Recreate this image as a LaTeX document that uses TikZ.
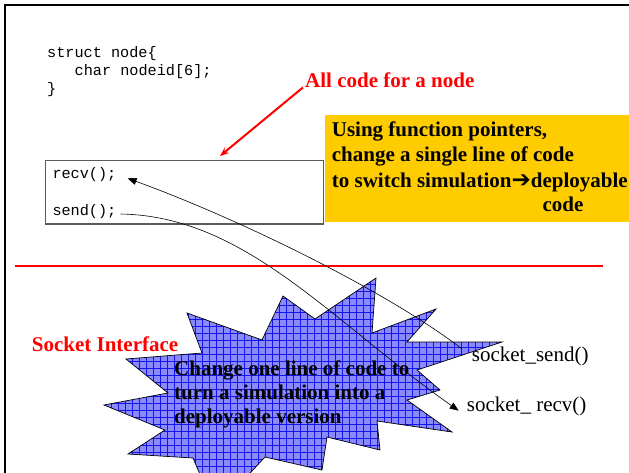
\documentclass[tikz,border=0pt]{standalone}
\usepackage{fontspec}
\setmainfont{Liberation Serif}
\setmonofont{Liberation Mono}
\newfontfamily\djv{DejaVu Sans}
\usetikzlibrary{arrows.meta}
\definecolor{gold}{RGB}{255,204,0}
\definecolor{starfill}{RGB}{138,138,252}
\definecolor{boxgray}{RGB}{90,90,90}
\definecolor{gridblue}{RGB}{20,20,235}
\begin{document}
\begin{tikzpicture}[x=1pt,y=-1pt,
  code/.style={font=\fontsize{15.2}{18}\selectfont\ttfamily, inner sep=0pt, anchor=base west},
  big/.style={font=\fontsize{21}{24}\selectfont, inner sep=0pt, anchor=base west},
  bigb/.style={font=\fontsize{21}{24}\selectfont\bfseries, inner sep=0pt, anchor=base west},
  conn/.style={black, line width=0.6pt},
  tipend/.style={-{Triangle[length=9pt,width=7pt]}},
  redarrow/.style={red, line width=2pt, -{Stealth[length=9pt,width=7pt]}},
  gridline/.style={gridblue, line width=0.35pt}]
\useasboundingbox (0,0) rectangle (629,472);
\clip (0,0) rectangle (629,472);
\fill[white] (0,0) rectangle (629,472);
% frame
\draw[line width=2.2pt] (5,490) -- (5,5) -- (650,5);
% struct code
\node[code] (l1) at (47,57) {struct node\{};
\node[code] (l2) at (74.5,75) {char nodeid[6];};
\node[code] (l3) at (47,93) {\}};
% label all code
\node[bigb, text=red] (allcode) at (305,87) {All code for a node};
% code box
\node[draw=boxgray, line width=1.2pt, anchor=north west, minimum width=277.7pt, minimum height=63.3pt, inner sep=0pt] (codebox) at (45,160) {};
\coordinate (alltip) at (220,156);
\draw[redarrow] ([shift={(-2,0)}]allcode.south west) -- (alltip);
\node[code] (recv) at (52.3,178.3) {recv();};
\node[code] (send) at (52.3,215) {send();};
% yellow box
\node[fill=gold, anchor=north west, minimum width=310pt, minimum height=107.4pt, inner sep=0pt] (ybox) at (325,114.3) {};
\node[bigb] (y1) at (331.7,136.7) {Using function pointers,};
\node[bigb] (y2) at (331.7,161.7) {change a single line of code};
\node[bigb] (y3) at (331.7,187.7) {to switch simulation{\djv\bfseries\fontsize{23}{24}\selectfont ➔}deployable};
\node[bigb] (y4) at (542.3,211.7) {code};
% red separator
\draw[red, line width=2.5pt] (15,266) -- (603,266);
% socket interface
\node[bigb, text=red] (sock) at (31.7,351.7) {Socket Interface};
% star
\def\starpath{(187,313) -- (262,340) -- (283,296) -- (315,319) -- (376,278) -- (372,333) -- (436,309) -- (407,342) -- (502,342) -- (417,370) -- (440,390) -- (407,400) -- (452,432) -- (377,421) -- (380,450) -- (327,437) -- (322,470) -- (265,457) -- (240,484) -- (205,486) -- (193,458) -- (128,454) -- (165,430) -- (104,405) -- (168,393) -- (126,359) -- (202,353) -- cycle}
\fill[starfill] \starpath;
\begin{scope}
  \clip \starpath;
  \foreach \x in {90,97,...,510} \draw[gridline] (\x,270) -- (\x,490);
  \foreach \y in {270,277,...,490} \draw[gridline] (90,\y) -- (510,\y);
\end{scope}
\draw[black, line width=0.7pt, line join=miter] \starpath;
% socket labels
\node[big] (ssend) at (471.7,361.7) {socket\_send()};
\node[big] (srecv) at (466.7,411.7) {socket\_ recv()};
% connectors
\draw[conn, tipend] ([shift={(-10,-13)}]ssend.base west) .. controls (385,290) and (237,218) .. ([shift={(11,0)}]recv.base east);
\draw[conn, tipend] ([shift={(4,-1)}]send.base east) .. controls (245,216) and (330,320) .. ([shift={(-8,-1)}]srecv.base west);
% star text
\node[bigb] (t1) at (174,375) {Change one line of code to};
\node[bigb] (t2) at (174,399) {turn a simulation into a};
\node[bigb] (t3) at (174,423) {deployable version};
\end{tikzpicture}
\end{document}
